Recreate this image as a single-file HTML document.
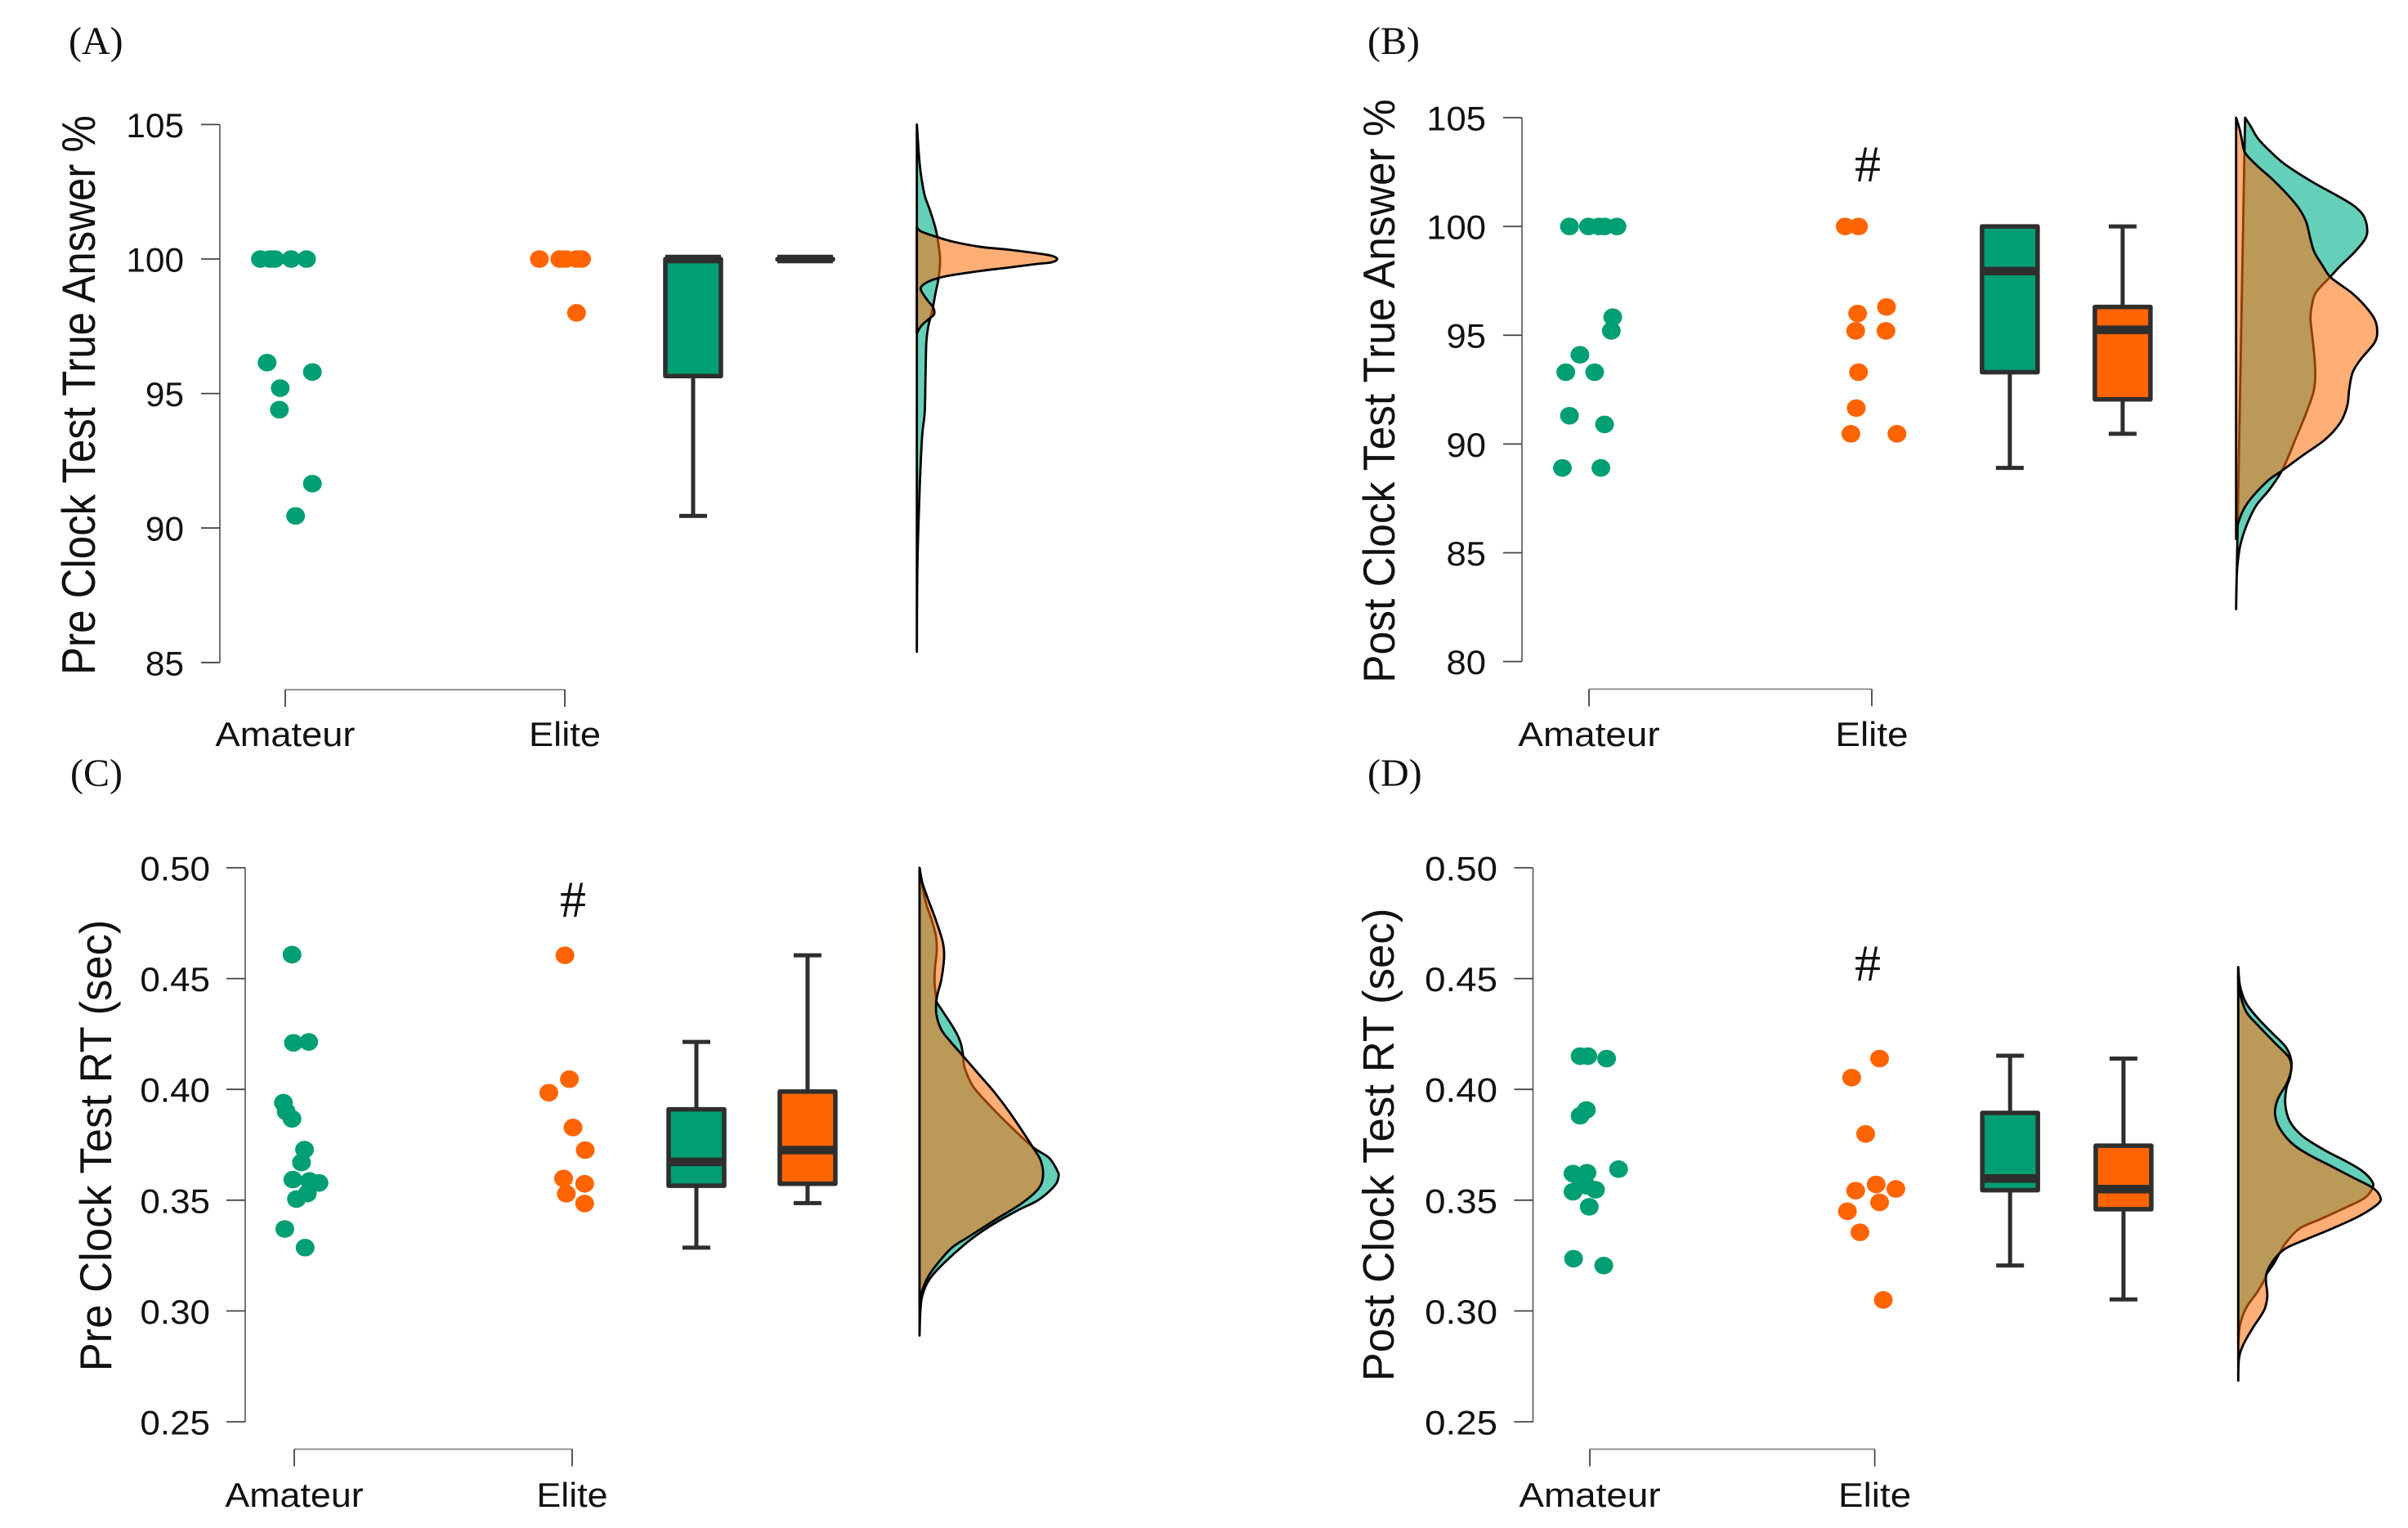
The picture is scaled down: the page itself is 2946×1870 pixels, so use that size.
<!DOCTYPE html>
<html lang="en">
<head>
<meta charset="utf-8">
<title>Clock test raincloud plots</title>
<style>
html,body{margin:0;padding:0;background:#fff;}
svg{display:block;}
text{font-family:"Liberation Sans",Arial,sans-serif;fill:#111;}
.serif{font-family:"Liberation Serif","Times New Roman",serif;fill:#111;}
</style>
</head>
<body>
<svg id="figure" xmlns="http://www.w3.org/2000/svg" width="2946" height="1870" viewBox="0 0 2946 1870">
  <rect x="0" y="0" width="2946" height="1870" fill="#ffffff"/>
  <g id="panel-A">
    <text class="serif" x="84" y="66" font-size="48">(A)</text>
    <text transform="translate(116,483.5) rotate(-90) scale(1.02,1.15)" text-anchor="middle" font-size="50">Pre Clock Test True Answer %</text>
  </g>
  <g id="panel-B">
    <text class="serif" x="1673" y="66" font-size="48">(B)</text>
    <text transform="translate(1706,478.5) rotate(-90) scale(1.03,1.1)" text-anchor="middle" font-size="50">Post Clock Test True Answer %</text>
    <text class="serif" x="2285" y="222" text-anchor="middle" font-size="64">#</text>
  </g>
  <g id="panel-C">
    <text class="serif" x="86" y="962" font-size="48">(C)</text>
    <text transform="translate(136,1402) rotate(-90) scale(1.053,1.1)" text-anchor="middle" font-size="50">Pre Clock Test RT (sec)</text>
    <text class="serif" x="701" y="1122" text-anchor="middle" font-size="64">#</text>
  </g>
  <g id="panel-D">
    <text class="serif" x="1673" y="962" font-size="48">(D)</text>
    <text transform="translate(1705,1401) rotate(-90) scale(1.058,1.08)" text-anchor="middle" font-size="50">Post Clock Test RT (sec)</text>
    <text class="serif" x="2285" y="1200" text-anchor="middle" font-size="64">#</text>
  </g>
</svg>
<script>
// ---------- Shared data ----------
const categories = ['Amateur', 'Elite'];

// ---------- Panel A data ----------
const yTicksA = [85, 90, 95, 100, 105];
const yLabelsA = ['85', '90', '95', '100', '105'];
const amateurValuesA = [100, 100, 100, 100, 100, 96.15, 95.8, 95.2, 94.4, 91.65, 90.45];
const amateurJitterA = [-0.089, -0.055, -0.037, 0.021, 0.076, -0.065, 0.097, -0.018, -0.021, 0.097, 0.037];
const eliteValuesA = [100, 100, 100, 100, 100, 98];
const eliteJitterA = [-0.091, -0.018, 0.003, 0.042, 0.06, 0.042];
const boxAmateurA = [90.45, 95.65, 100, 100, 100];
const boxEliteA = [100, 100, 100, 100, 100];
const densityGridAmateurA = [105, 103.5, 102.44, 101.85, 101.34, 100.83, 100, 99.3, 98.7, 98.1, 97.5, 96.9, 95.65, 94.3, 93.4, 91.6, 89.8, 88, 85.4];
const densityAmateurA = [0, 0.018, 0.045, 0.078, 0.105, 0.125, 0.142, 0.133, 0.113, 0.095, 0.07, 0.058, 0.053, 0.048, 0.032, 0.018, 0.008, 0.002, 0];
const densityGridEliteA = [101.18, 101.03, 100.83, 100.64, 100.45, 100.35, 100.22, 100.12, 100, 99.88, 99.81, 99.68, 99.56, 99.41, 99.31, 99.15, 98.95, 98.75, 98.45, 98.2, 97.94, 97.74, 97.5, 97.23];
const densityEliteA = [0, 0.025, 0.117, 0.225, 0.392, 0.558, 0.725, 0.825, 0.858, 0.825, 0.725, 0.558, 0.392, 0.225, 0.142, 0.067, 0.025, 0.033, 0.067, 0.1, 0.105, 0.067, 0.025, 0];

// ---------- Panel B data ----------
const yTicksB = [80, 85, 90, 95, 100, 105];
const yLabelsB = ['80', '85', '90', '95', '100', '105'];
const amateurValuesB = [100, 100, 100, 100, 100, 95.83, 95.2, 94.1, 93.3, 93.3, 91.3, 90.9, 88.9, 88.9];
const amateurJitterB = [-0.069, -0.002, 0.035, 0.055, 0.099, 0.084, 0.079, -0.032, -0.082, 0.02, -0.069, 0.055, -0.094, 0.042];
const eliteValuesB = [100, 100, 96.3, 96, 95.2, 95.2, 93.3, 91.65, 90.47, 90.47];
const eliteJitterB = [-0.094, -0.047, 0.052, -0.05, -0.057, 0.05, -0.047, -0.055, -0.074, 0.089];
const boxAmateurB = [88.9, 93.3, 97.95, 100, 100];
const boxEliteB = [90.47, 92.05, 95.25, 96.3, 100];
const densityGridAmateurB = [105, 104.62, 104, 103.24, 102.78, 102.02, 101.4, 100.94, 100.48, 99.87, 99.41, 98.8, 98.19, 97.65, 96.96, 96.35, 95.74, 94.82, 93.59, 92.52, 91.45, 90.22, 88.84, 87.92, 87.16, 86.24, 85.32, 84.4, 83.49, 82.41];
const densityAmateurB = [0.055, 0.088, 0.138, 0.238, 0.313, 0.472, 0.622, 0.722, 0.78, 0.802, 0.788, 0.722, 0.638, 0.572, 0.488, 0.463, 0.455, 0.468, 0.483, 0.477, 0.43, 0.363, 0.285, 0.205, 0.122, 0.063, 0.025, 0.008, 0.002, 0];
const densityGridEliteB = [105, 104.46, 104, 103.39, 102.78, 102.17, 101.4, 100.79, 100.18, 99.41, 98.8, 98.19, 97.65, 96.96, 96.35, 95.74, 95.2, 94.66, 93.9, 93.29, 92.52, 91.76, 90.99, 90.22, 89.46, 88.77, 88.38, 87.62, 87.01, 86.24, 85.63];
const densityEliteB = [0, 0.022, 0.035, 0.055, 0.13, 0.222, 0.322, 0.388, 0.43, 0.455, 0.48, 0.53, 0.58, 0.705, 0.788, 0.847, 0.863, 0.847, 0.763, 0.713, 0.692, 0.68, 0.638, 0.547, 0.405, 0.28, 0.205, 0.105, 0.047, 0.008, 0];

// ---------- Panel C data ----------
const yTicksC = [0.25, 0.30, 0.35, 0.40, 0.45, 0.50];
const yLabelsC = ['0.25', '0.30', '0.35', '0.40', '0.45', '0.50'];
const amateurValuesC = [0.4608, 0.421, 0.4214, 0.394, 0.39, 0.3867, 0.3728, 0.367, 0.3593, 0.3587, 0.3578, 0.353, 0.3505, 0.337, 0.3286];
const amateurJitterC = [-0.008, -0.003, 0.052, -0.039, -0.029, -0.008, 0.037, 0.026, -0.005, 0.055, 0.089, 0.047, 0.008, -0.034, 0.039];
const eliteValuesC = [0.4605, 0.4046, 0.3985, 0.3828, 0.3726, 0.3598, 0.3574, 0.3529, 0.3485];
const eliteJitterC = [-0.026, -0.01, -0.084, 0.003, 0.047, -0.031, 0.045, -0.021, 0.045];
const boxAmateurC = [0.3286, 0.3565, 0.3673, 0.391, 0.4214];
const boxEliteC = [0.3487, 0.3574, 0.3726, 0.399, 0.4605];
const densityGridAmateurC = [0.5, 0.4919, 0.4834, 0.4763, 0.4693, 0.4622, 0.4552, 0.4481, 0.4404, 0.439, 0.4277, 0.4213, 0.415, 0.41, 0.4016, 0.3931, 0.3832, 0.374, 0.3691, 0.3634, 0.3606, 0.3564, 0.35, 0.3451, 0.338, 0.331, 0.3211, 0.314, 0.307, 0.2999, 0.2889];
const densityAmateurC = [0, 0.017, 0.042, 0.075, 0.1, 0.105, 0.095, 0.092, 0.103, 0.108, 0.208, 0.25, 0.267, 0.275, 0.325, 0.425, 0.558, 0.692, 0.792, 0.842, 0.85, 0.825, 0.725, 0.592, 0.425, 0.292, 0.142, 0.058, 0.017, 0.005, 0];
const densityGridEliteC = [0.5, 0.4933, 0.4862, 0.4763, 0.4665, 0.4594, 0.4495, 0.4411, 0.434, 0.427, 0.4213, 0.415, 0.4072, 0.3987, 0.3889, 0.374, 0.3677, 0.3606, 0.355, 0.3486, 0.3409, 0.3331, 0.3282, 0.3197, 0.314, 0.307, 0.3014];
const densityEliteC = [0, 0.017, 0.05, 0.1, 0.142, 0.15, 0.133, 0.105, 0.103, 0.133, 0.192, 0.267, 0.358, 0.458, 0.558, 0.692, 0.742, 0.755, 0.725, 0.625, 0.458, 0.292, 0.192, 0.092, 0.042, 0.008, 0];

// ---------- Panel D data ----------
const yTicksD = [0.25, 0.30, 0.35, 0.40, 0.45, 0.50];
const yLabelsD = ['0.25', '0.30', '0.35', '0.40', '0.45', '0.50'];
const amateurValuesD = [0.415, 0.415, 0.4139, 0.3907, 0.3881, 0.362, 0.3624, 0.364, 0.3538, 0.3569, 0.3565, 0.3547, 0.347, 0.3236, 0.3205];
const amateurJitterD = [-0.034, -0.007, 0.059, -0.012, -0.034, -0.059, -0.01, 0.101, -0.059, -0.032, -0.012, 0.02, -0.002, -0.057, 0.049];
const eliteValuesD = [0.4139, 0.4053, 0.3799, 0.3571, 0.3543, 0.3551, 0.349, 0.345, 0.3355, 0.305];
const eliteJitterD = [0.017, -0.081, -0.032, 0.005, -0.067, 0.074, 0.017, -0.096, -0.052, 0.03];
const boxAmateurD = [0.3205, 0.3545, 0.3598, 0.3894, 0.4152];
const boxEliteD = [0.3052, 0.3459, 0.355, 0.3746, 0.4139];
const densityGridAmateurD = [0.4552, 0.4463, 0.4387, 0.4317, 0.4254, 0.419, 0.4127, 0.4057, 0.4006, 0.393, 0.3854, 0.379, 0.3727, 0.3676, 0.3632, 0.3587, 0.3556, 0.3511, 0.3467, 0.3416, 0.3372, 0.3308, 0.3257, 0.3213, 0.3168, 0.3143, 0.3086, 0.3016, 0.294, 0.2851];
const densityAmateurD = [0, 0.012, 0.05, 0.125, 0.208, 0.292, 0.325, 0.317, 0.295, 0.288, 0.317, 0.392, 0.525, 0.658, 0.758, 0.817, 0.822, 0.775, 0.658, 0.508, 0.375, 0.292, 0.25, 0.217, 0.175, 0.162, 0.117, 0.05, 0.012, 0];
const densityGridEliteD = [0.4552, 0.4463, 0.4438, 0.4349, 0.4286, 0.4209, 0.4146, 0.4095, 0.4032, 0.3956, 0.3892, 0.3829, 0.3759, 0.3708, 0.3651, 0.36, 0.3556, 0.3518, 0.3486, 0.3429, 0.3372, 0.3321, 0.3283, 0.3238, 0.3175, 0.313, 0.3067, 0.3003, 0.2927, 0.2851, 0.2787, 0.2686];
const densityEliteD = [0, 0, 0.008, 0.05, 0.125, 0.225, 0.308, 0.325, 0.3, 0.242, 0.225, 0.25, 0.325, 0.425, 0.575, 0.708, 0.822, 0.867, 0.858, 0.742, 0.575, 0.408, 0.292, 0.225, 0.175, 0.17, 0.178, 0.158, 0.092, 0.033, 0.005, 0];

// ---------- Rendering ----------
const SVG_NS = 'http://www.w3.org/2000/svg';
const TEAL = '#009E73';
const ORANGE = '#FF6400';
const DARK = '#2e2e2e';
const AXIS = '#666666';
const DENSITY_SCALE = 200;

function make(parent, tag, attrs) {
  const el = document.createElementNS(SVG_NS, tag);
  for (const key in attrs) el.setAttribute(key, attrs[key]);
  parent.appendChild(el);
  return el;
}

function linear(d0, d1, r0, r1) {
  return function (v) { return r0 + (v - d0) * (r1 - r0) / (d1 - d0); };
}

function smoothPath(pts) {
  let d = 'M' + pts[0][0].toFixed(2) + ' ' + pts[0][1].toFixed(2);
  for (let i = 0; i < pts.length - 1; i++) {
    const p0 = pts[Math.max(0, i - 1)], p1 = pts[i], p2 = pts[i + 1], p3 = pts[Math.min(pts.length - 1, i + 2)];
    const c1x = p1[0] + (p2[0] - p0[0]) / 6, c1y = p1[1] + (p2[1] - p0[1]) / 6;
    const c2x = p2[0] - (p3[0] - p1[0]) / 6, c2y = p2[1] - (p3[1] - p1[1]) / 6;
    d += 'C' + c1x.toFixed(2) + ' ' + c1y.toFixed(2) + ' ' + c2x.toFixed(2) + ' ' + c2y.toFixed(2) + ' ' + p2[0].toFixed(2) + ' ' + p2[1].toFixed(2);
  }
  return d + 'Z';
}

function drawAxes(g, p) {
  const y = p.y;
  const spine = make(g, 'line', { x1: p.axisX, x2: p.axisX, y1: y(p.ticks[0]), y2: y(p.ticks[p.ticks.length - 1]), stroke: AXIS, 'stroke-width': 1.8 });
  
  
  p.ticks.forEach(function (t, i) {
    const tick = make(g, 'line', { x1: p.axisX - 23, x2: p.axisX, y1: y(t), y2: y(t), stroke: '#444', 'stroke-width': 1.8 });
    
    
    const label = make(g, 'text', { transform: 'translate(' + p.tickLabelX + ',' + (y(t) + 15.5) + ') scale(' + p.tickScale + ',1)', 'text-anchor': 'end', 'font-size': 41.5 });
    label.textContent = p.labels[i];
    
    
  });
  const xa = p.x(0), xe = p.x(1);
  const xLine = make(g, 'line', { x1: xa, x2: xe, y1: p.xAxisY, y2: p.xAxisY, stroke: '#888', 'stroke-width': 1.8 });
  
  
  categories.forEach(function (c, i) {
    const tick = make(g, 'line', { x1: p.x(i), x2: p.x(i), y1: p.xAxisY, y2: p.xAxisY + 21, stroke: '#444', 'stroke-width': 1.8 });
    
    
    const label = make(g, 'text', { transform: 'translate(' + p.x(i) + ',' + p.xLabelY + ') scale(' + p.catScale + ',1)', 'text-anchor': 'middle', 'font-size': 41.5 });
    label.textContent = c;
    
    
  });
}

function drawPoints(g, p, cat, values, jitter, color) {
  values.forEach(function (v, i) {
    const dot = make(g, 'ellipse', { cx: p.x(cat + jitter[i]), cy: p.y(v), rx: 11.5, ry: 10.8, fill: color });
    
    
  });
}

function drawBox(g, p, pos, stats, color) {
  const cx = p.x(pos), y = p.y;
  const lo = stats[0], q1 = stats[1], med = stats[2], q3 = stats[3], hi = stats[4];
  const whiskers = [[lo, q1], [q3, hi]];
  whiskers.forEach(function (w) {
    const line = make(g, 'line', { x1: cx, x2: cx, y1: y(w[0]), y2: y(w[1]), stroke: DARK, 'stroke-width': 5 });
    
    
  });
  [lo, hi].forEach(function (v) {
    const cap = make(g, 'line', { x1: cx - 17, x2: cx + 17, y1: y(v), y2: y(v), stroke: DARK, 'stroke-width': 5 });
    
    
  });
  const box = make(g, 'rect', { x: cx - 34, y: y(q3), width: 68, height: Math.max(0.5, y(q1) - y(q3)), fill: color, stroke: DARK, 'stroke-width': 5.5, 'stroke-linejoin': 'round' });
  
  
  const median = make(g, 'line', { x1: cx - 34, x2: cx + 34, y1: y(med), y2: y(med), stroke: DARK, 'stroke-width': 10.5 });
  
  
}

function drawDensity(g, p, grid, dens, fill, name) {
  const pts = grid.map(function (v, i) { return [p.densityBase + dens[i] * DENSITY_SCALE, p.y(v)]; });
  const path = make(g, 'path', { d: smoothPath(pts), fill: fill, stroke: '#000', 'stroke-width': 2.8, 'stroke-linejoin': 'round' });
  
  
}

function drawPanel(p) {
  const g = document.getElementById(p.id);
  p.y = linear(p.ticks[0], p.ticks[p.ticks.length - 1], p.yBottom, p.yTop);
  p.x = linear(0, 1, p.catX0, p.catX1);
  drawAxes(g, p);
  drawPoints(g, p, 0, p.amateurValues, p.amateurJitter, TEAL);
  drawPoints(g, p, 1, p.eliteValues, p.eliteJitter, ORANGE);
  drawBox(g, p, p.boxPos[0], p.boxAmateur, TEAL);
  drawBox(g, p, p.boxPos[1], p.boxElite, ORANGE);
  drawDensity(g, p, p.gridAmateur, p.densAmateur, '#65D0BA', 'density-amateur');
  drawDensity(g, p, p.gridElite, p.densElite, 'rgba(255,110,10,0.56)', 'density-elite');
}

drawPanel({ id: 'panel-A', ticks: yTicksA, labels: yLabelsA, yBottom: 810.8, yTop: 152.4, axisX: 269, tickLabelX: 225, tickScale: 1.02, catScale: 1.09, catX0: 349, catX1: 691, xAxisY: 844, xLabelY: 913, densityBase: 1121.7, boxPos: [1.459, 1.86], amateurValues: amateurValuesA, amateurJitter: amateurJitterA, eliteValues: eliteValuesA, eliteJitter: eliteJitterA, boxAmateur: boxAmateurA, boxElite: boxEliteA, gridAmateur: densityGridAmateurA, densAmateur: densityAmateurA, gridElite: densityGridEliteA, densElite: densityEliteA });
drawPanel({ id: 'panel-B', ticks: yTicksB, labels: yLabelsB, yBottom: 809.6, yTop: 144, axisX: 1862, tickLabelX: 1818, tickScale: 1.05, catScale: 1.105, catX0: 1944, catX1: 2290, xAxisY: 843.4, xLabelY: 913, densityBase: 2735.7, boxPos: [1.488, 1.887], amateurValues: amateurValuesB, amateurJitter: amateurJitterB, eliteValues: eliteValuesB, eliteJitter: eliteJitterB, boxAmateur: boxAmateurB, boxElite: boxEliteB, gridAmateur: densityGridAmateurB, densAmateur: densityAmateurB, gridElite: densityGridEliteB, densElite: densityEliteB });
drawPanel({ id: 'panel-C', ticks: yTicksC, labels: yLabelsC, yBottom: 1740, yTop: 1062, axisX: 300, tickLabelX: 257, tickScale: 1.06, catScale: 1.08, catX0: 360, catX1: 700, xAxisY: 1773.5, xLabelY: 1844, densityBase: 1125, boxPos: [1.447, 1.847], amateurValues: amateurValuesC, amateurJitter: amateurJitterC, eliteValues: eliteValuesC, eliteJitter: eliteJitterC, boxAmateur: boxAmateurC, boxElite: boxEliteC, gridAmateur: densityGridAmateurC, densAmateur: densityAmateurC, gridElite: densityGridEliteC, densElite: densityEliteC });
drawPanel({ id: 'panel-D', ticks: yTicksD, labels: yLabelsD, yBottom: 1740, yTop: 1062, axisX: 1875.5, tickLabelX: 1832, tickScale: 1.1, catScale: 1.105, catX0: 1945, catX1: 2293.6, xAxisY: 1773.5, xLabelY: 1844, densityBase: 2738.3, boxPos: [1.475, 1.873], amateurValues: amateurValuesD, amateurJitter: amateurJitterD, eliteValues: eliteValuesD, eliteJitter: eliteJitterD, boxAmateur: boxAmateurD, boxElite: boxEliteD, gridAmateur: densityGridAmateurD, densAmateur: densityAmateurD, gridElite: densityGridEliteD, densElite: densityEliteD });
</script>
</body>
</html>
